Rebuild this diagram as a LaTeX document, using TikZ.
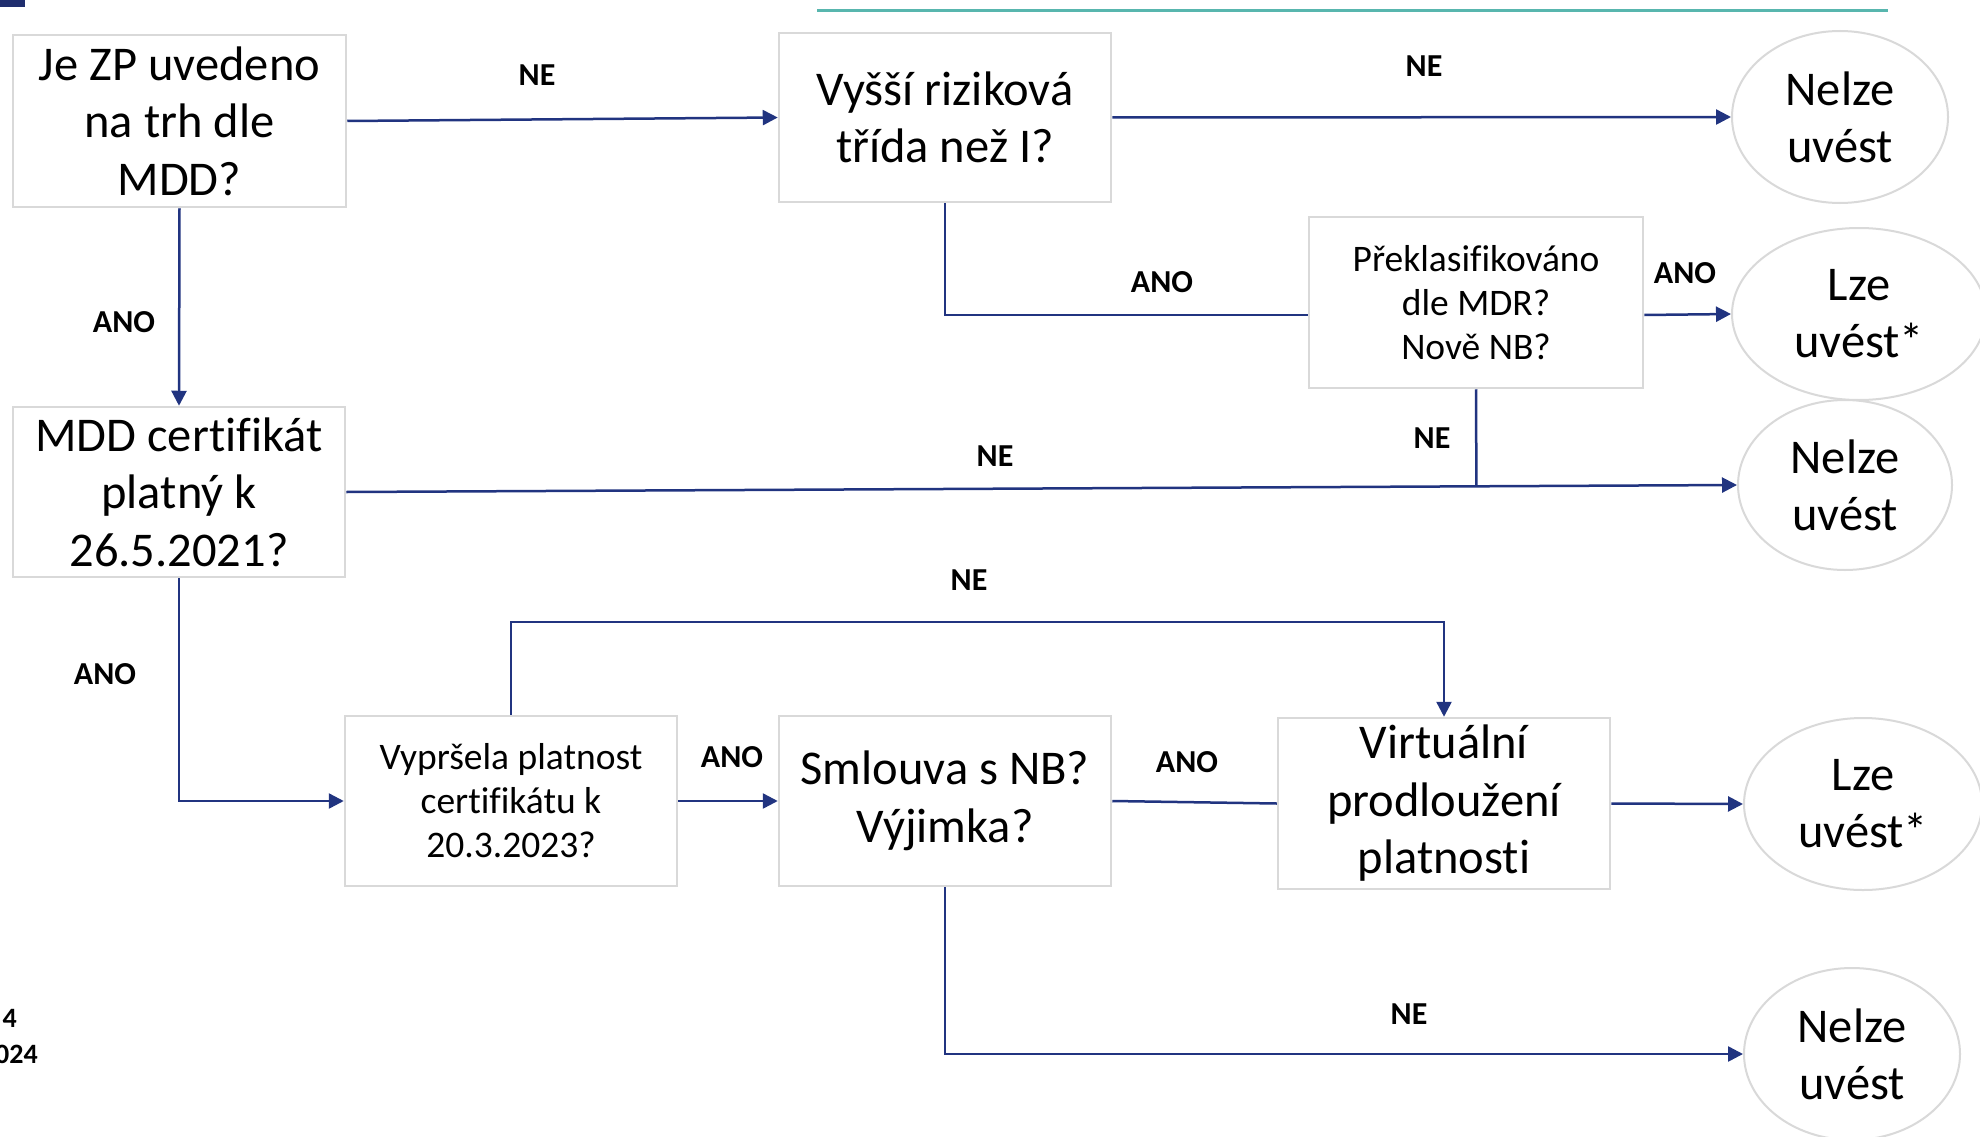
\documentclass[tikz,border=0pt]{standalone}
\usepackage{fontspec}
\setmainfont{Carlito}[Ligatures=CommonOff]
\usetikzlibrary{arrows.meta,shapes.geometric,calc}
\definecolor{navy}{RGB}{33,52,128}
\definecolor{barnavy}{RGB}{31,45,110}
\definecolor{boxgray}{RGB}{217,217,217}
\definecolor{tealline}{RGB}{88,182,174}
\begin{document}
\begin{tikzpicture}[x=1pt,y=-1pt,
  box/.style={draw=boxgray, line width=2.5pt, rectangle, inner sep=0pt, align=center,
    minimum width=332pt, minimum height=170pt, font=\fontsize{48.5}{57.5}\selectfont},
  smallbox/.style={box, font=\fontsize{37.5}{44}\selectfont},
  endnode/.style={draw=boxgray, line width=2pt, ellipse, inner sep=0pt, align=center,
    font=\fontsize{48.5}{57}\selectfont},
  conn/.style={draw=navy, line width=2.5pt},
  arr/.style={conn, -{Triangle[length=15pt,width=15pt]}},
  lbl/.style={font=\fontsize{32}{38}\selectfont\bfseries, inner sep=0pt},
  foot/.style={font=\fontsize{28}{33}\selectfont\bfseries, inner sep=0pt, anchor=base east}]
\useasboundingbox (0,0) rectangle (1980,1137);
\fill[white] (0,0) rectangle (1980,1137);

% decorations
\fill[barnavy] (0,0) rectangle (25,7);
\draw[tealline, line width=3pt] (817,11) -- (1888,11);

% boxes
\node[box, minimum width=333pt, minimum height=172pt] (A) at (179.5,121) {Je ZP uvedeno\\na trh dle\\MDD?};
\node[box, minimum height=169pt] (B) at (945,117.5) {Vyšší riziková\\třída než I?};
\node[smallbox, minimum width=334pt, minimum height=171pt] (C) at (1476,302.5) {Překlasifikováno\\dle MDR?\\Nově NB?};
\node[box] (D) at (179,492) {MDD certifikát\\platný k\\26.5.2021?};
\node[smallbox] (E) at (511,801) {Vypršela platnost\\certifikátu k\\20.3.2023?};
\node[box] (F) at (945,801) {Smlouva s NB?\\Výjimka?};
\node[box, minimum height=171pt] (G) at (1444,803.5) {Virtuální\\prodloužení\\platnosti};

% end states
\node[endnode, minimum width=216pt, minimum height=172pt] (E1) at (1840,117) {Nelze\\uvést};
\node[endnode, minimum width=254pt, minimum height=172pt] (E2) at (1859,314) {Lze\\uvést*};
\node[endnode, minimum width=214pt, minimum height=170pt] (E3) at (1845,485) {Nelze\\uvést};
\node[endnode, minimum width=238pt, minimum height=172pt] (E4) at (1863,804) {Lze\\uvést*};
\node[endnode, minimum width=216pt, minimum height=172pt] (E5) at (1852,1054) {Nelze\\uvést};

% connectors
\draw[arr] (A.east) -- (B.west);
\draw[arr] (B.east) -- (E1.west);
\coordinate (Cin) at ($(C.west)+(0,12.5)$);
\coordinate (Cout) at ($(C.east)+(0,12.5)$);
\draw[conn] (B.south) |- (Cin);
\draw[arr] (Cout) -- (E2.west);
\draw[arr] (D.east) -- (E3.west);
\coordinate (J) at ($(D.east)!(C.south)!(E3.west)$);
\draw[conn] (C.south) -- (J);
\draw[arr] (A.south) -- (D.north);
\draw[arr] (D.south) |- (E.west);
\coordinate (Etop) at ($(E.north)+(0,-93)$);
\draw[arr] (E.north) -- (Etop) -| (G.north);
\draw[arr] (E.east) -- (F.west);
\draw[conn] (F.east) -- (G.west);
\draw[arr] (G.east) -- (E4.west);
\draw[arr] (F.south) |- (E5.west);

% labels
\node[lbl] (l1) at (537,75) {NE};
\node[lbl] (l2) at (1424,66) {NE};
\node[lbl] (l3) at (1162,282) {ANO};
\node[lbl] (l4) at (1685,273) {ANO};
\node[lbl] (l5) at (995,456) {NE};
\node[lbl] (l6) at (1432,438) {NE};
\node[lbl] (l7) at (124,322) {ANO};
\node[lbl] (l8) at (105,674) {ANO};
\node[lbl] (l9) at (969,580) {NE};
\node[lbl] (l10) at (732,757) {ANO};
\node[lbl] (l11) at (1187,762) {ANO};
\node[lbl] (l12) at (1409,1014) {NE};

% cut-off footer text (cut at the left edge, as in the reference)
\node[foot] (f1) at (17,1027) {4};
\node[foot] (f2) at (38,1063) {024};
\end{tikzpicture}
\end{document}
